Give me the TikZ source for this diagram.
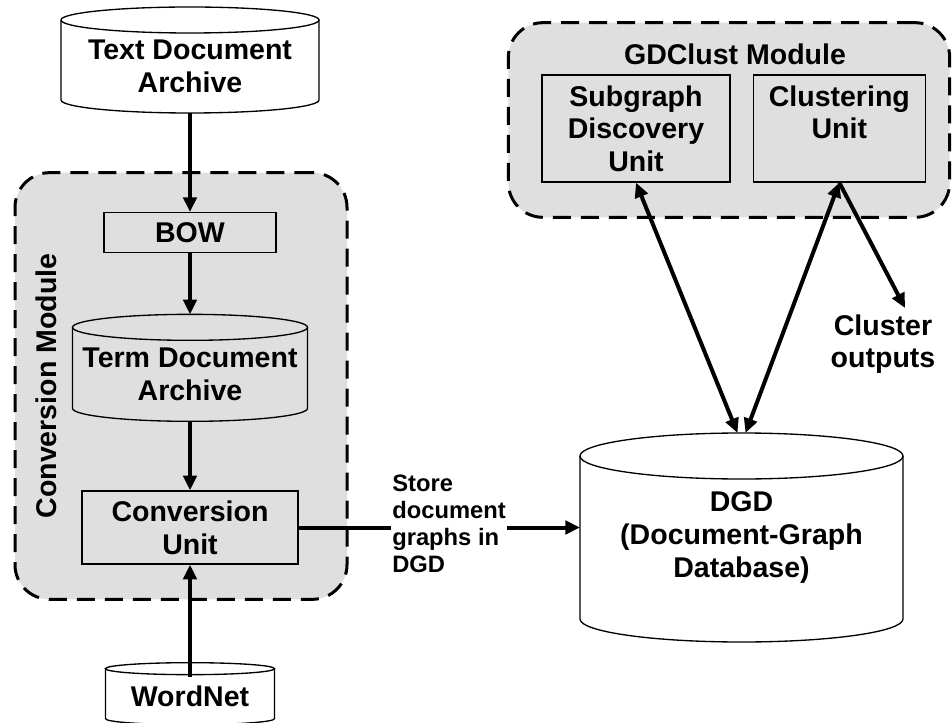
\documentclass[tikz,border=0pt]{standalone}
\usepackage{fontspec}
\setmainfont{Liberation Sans}
\usetikzlibrary{arrows.meta, positioning}

% cylinder outline round a plain node: name, x radius, y radius, drop of the top ellipse below north
\newcommand{\dbshape}[4]{%
  \draw[line width=1pt] ([yshift=-#4]#1.north) ellipse [x radius=#2, y radius=#3];
  \draw[line width=1pt] ([yshift=-#4]#1.north west) -- ([yshift=#3]#1.south west)
    arc[start angle=180, end angle=360, x radius=#2, y radius=#3] -- ([yshift=-#4]#1.north east);
}

\begin{document}
\begin{tikzpicture}[x=0.75pt, y=-0.75pt,
    font=\fontsize{21.4}{24.5}\selectfont\bfseries,
    module/.style={rectangle, draw, dash pattern=on 13.5pt off 7.5pt, line width=2.25pt, rounded corners=26pt, fill=gray!25},
    unit/.style={rectangle, draw, line width=1pt, fill=gray!25, align=center, inner sep=2pt},
    store/.style={rectangle, align=center, inner sep=0pt, outer sep=0pt},
    arrow/.style={-{Triangle[length=11pt, width=10pt]}, line width=3pt},
    twoway/.style={{Triangle[length=11pt, width=10pt]}-{Triangle[length=11pt, width=10pt]}, line width=3pt}
]
    \useasboundingbox (0,0) rectangle (952,723);

    % modules
    \node[module, minimum width=249pt, minimum height=320pt] (convmod) at (181,386) {};
    \node[rotate=90] (convlbl) at (46,386) {Conversion Module};
    \node[module, minimum width=331pt, minimum height=146pt] (gdmod) at (729,120) {};
    \node (gdlbl) at (735,54) {GDClust Module};

    % conversion side
    \node[store, minimum width=193.5pt, minimum height=69.75pt] (tda) at (190,66.5) {Text Document\\Archive};
    \node[unit, below=74.25pt of tda, minimum width=129pt, minimum height=30pt] (bow) {BOW};
    \node[store, below=55.5pt of bow, minimum width=176.25pt, minimum height=70.5pt] (tdarch) {Term Document\\Archive};
    \node[unit, below=51.75pt of tdarch, minimum width=162pt, minimum height=54.75pt] (conv) {Conversion\\Unit};
    \node[store, below=78pt of conv, minimum width=126.75pt, minimum height=42pt] (wn) {WordNet};

    % clustering side
    \node[unit, minimum width=141pt, minimum height=80.25pt] (sdu) at (636,128.5) {Subgraph\\Discovery\\Unit};
    \node[unit, right=16.5pt of sdu, minimum width=129pt, minimum height=80.25pt] (clu) {Clustering\\Unit\\\mbox{}};
    \node[store, minimum width=242.25pt, minimum height=156.75pt] (dgd) at (741.5,537.5) {DGD\\(Document-Graph\\Database)};
    \node[align=center] (clout) at (883,344) {Cluster\\outputs};
    \coordinate (outtip) at (905,308);

    \dbshape{tda}{96.75pt}{9.75pt}{0pt}
    \dbshape{tdarch}{88.125pt}{9.75pt}{0pt}
    \dbshape{wn}{63.375pt}{4.5pt}{0pt}
    \dbshape{dgd}{121.125pt}{17.25pt}{17.25pt}

    \draw[arrow] (tda) -- (bow);
    \draw[arrow] (bow) -- ([yshift=9.75pt]tdarch.north);
    \draw[arrow] (tdarch) -- (conv);
    \draw[arrow] ([yshift=-6pt]wn.north) -- (conv.south);
    \draw[arrow] (conv.east) -- (conv.east -| dgd.west);
    \node[align=left, fill=white, inner sep=1pt, font=\fontsize{17.8}{20.4}\selectfont\bfseries] (storelbl) at (449,524) {Store\\document\\graphs in\\DGD};
    \draw[twoway] ([xshift=-3pt]dgd.north) -- (sdu.south);
    \draw[twoway] ([xshift=3pt]dgd.north) -- (clu.south);
    \draw[arrow] (clu.south) -- (outtip);
\end{tikzpicture}
\end{document}
